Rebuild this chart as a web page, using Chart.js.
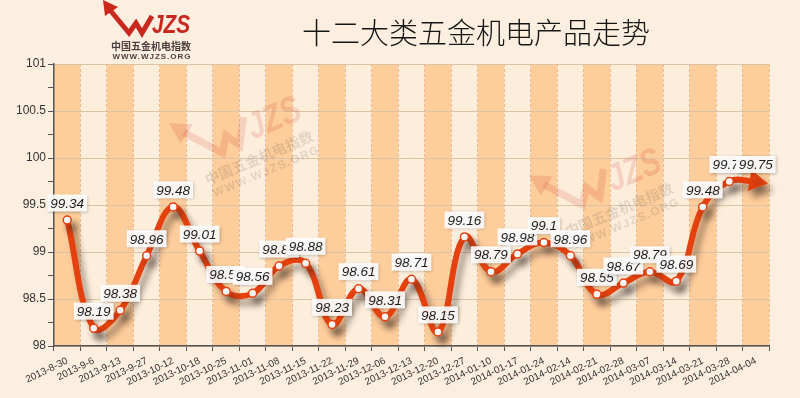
<!DOCTYPE html>
<html>
<head>
<meta charset="utf-8">
<title>十二大类五金机电产品走势</title>
<script src="https://cdn.jsdelivr.net/npm/chart.js@4"></script>
<style>
  html, body { margin: 0; padding: 0; background: #fcefdf; }
  canvas { display: block; }
</style>
</head>
<body>
<canvas id="chart" width="800" height="398"></canvas>
<script>
// Chart data
const categories = ['2013-8-30', '2013-9-6', '2013-9-13', '2013-9-27', '2013-10-12', '2013-10-18',
  '2013-10-25', '2013-11-01', '2013-11-08', '2013-11-15', '2013-11-22', '2013-11-29', '2013-12-06',
  '2013-12-13', '2013-12-20', '2013-12-27', '2014-01-10', '2014-01-17', '2014-01-24', '2014-02-14',
  '2014-02-21', '2014-02-28', '2014-03-07', '2014-03-14', '2014-03-21', '2014-03-28', '2014-04-04'];
const indexValues = [99.34, 98.19, 98.38, 98.96, 99.48, 99.01, 98.58, 98.56, 98.85, 98.88, 98.23,
  98.61, 98.31, 98.71, 98.15, 99.16, 98.79, 98.98, 99.1, 98.96, 98.55, 98.67, 98.79, 98.69, 99.48,
  99.75, 99.75];
const yMin = 98;
const yMax = 101;
const yMajorStep = 0.5;
const yMinorStep = 0.25;
const chartTitle = '十二大类五金机电产品走势';

const RED = '#e4410f';

// Draw the WJZS logo (used for the header and the faint watermarks)
function drawLogo(ctx, cx, cy, scale, angle, alpha) {
  ctx.save();
  ctx.globalAlpha = alpha;
  ctx.translate(cx, cy);
  ctx.rotate(angle);
  ctx.scale(scale, scale);
  ctx.translate(-48, -30);
  // arrow head
  ctx.fillStyle = '#c8281e';
  ctx.beginPath();
  ctx.moveTo(3, 0);
  ctx.lineTo(5, 16);
  ctx.lineTo(18, 7);
  ctx.closePath();
  ctx.fill();
  // arrow body that forms the W
  ctx.strokeStyle = '#c8281e';
  ctx.lineWidth = 5;
  ctx.lineJoin = 'miter';
  ctx.beginPath();
  ctx.moveTo(10, 10);
  ctx.lineTo(29, 33);
  ctx.lineTo(36, 23);
  ctx.lineTo(42, 33);
  ctx.lineTo(52, 16);
  ctx.stroke();
  // JZS letters
  ctx.save();
  ctx.translate(52, 33);
  ctx.scale(0.8, 1);
  ctx.fillStyle = '#c8281e';
  ctx.font = 'italic bold 26px "Liberation Sans"';
  ctx.textAlign = 'left';
  ctx.textBaseline = 'alphabetic';
  ctx.fillText('JZS', 0, 0);
  ctx.restore();
  ctx.fillStyle = '#4a4040';
  ctx.font = 'bold 10px "Noto Sans CJK SC"';
  ctx.textAlign = 'center';
  ctx.textBaseline = 'middle';
  ctx.fillText('中国五金机电指数', 51, 46);
  ctx.font = 'bold 8px "Liberation Sans"';
  ctx.letterSpacing = '1px';
  ctx.fillText('WWW.WJZS.ORG', 52, 57);
  ctx.restore();
}

// Background, alternating bands and header
const backdropPlugin = {
  id: 'backdrop',
  beforeDraw(chart) {
    const ctx = chart.ctx;
    const area = chart.chartArea;
    const xScale = chart.scales.x;
    ctx.save();
    ctx.fillStyle = '#fcefdf';
    ctx.fillRect(0, 0, chart.width, chart.height);
    const half = (xScale.getPixelForValue(1) - xScale.getPixelForValue(0)) / 2;
    categories.forEach((c, i) => {
      const px = xScale.getPixelForValue(i);
      ctx.fillStyle = i % 2 === 0 ? '#fdcd9b' : '#fdeedc';
      ctx.fillRect(px - half, area.top, half * 2, area.bottom - area.top);
    });
    // title
    ctx.fillStyle = '#151515';
    ctx.font = '300 29px "Noto Sans CJK SC"';
    ctx.textAlign = 'center';
    ctx.textBaseline = 'middle';
    ctx.fillText(chartTitle, 476, 33);
    ctx.restore();
    drawLogo(ctx, 148, 30, 1, 0, 1);
  },
  beforeDatasetsDraw(chart) {
    const ctx = chart.ctx;
    // faint watermarks
    drawLogo(ctx, 246, 138, 1.45, -0.4, 0.15);
    drawLogo(ctx, 606, 190, 1.45, -0.4, 0.15);
  }
};

// Shadow under the line
const shadowPlugin = {
  id: 'lineShadow',
  beforeDatasetDraw(chart) {
    const ctx = chart.ctx;
    ctx.save();
    ctx.shadowColor = 'rgba(60, 40, 30, 0.45)';
    ctx.shadowBlur = 6;
    ctx.shadowOffsetX = 5;
    ctx.shadowOffsetY = 7;
  },
  afterDatasetDraw(chart) {
    chart.ctx.restore();
  }
};

// Value labels in small white boxes above each point
const valueLabelPlugin = {
  id: 'valueLabels',
  afterDatasetsDraw(chart) {
    const ctx = chart.ctx;
    const meta = chart.getDatasetMeta(0);
    ctx.save();
    ctx.font = 'italic 13.5px "Liberation Sans"';
    ctx.textAlign = 'center';
    ctx.textBaseline = 'middle';
    meta.data.forEach((pt, i) => {
      const text = String(indexValues[i]);
      const w = ctx.measureText(text).width + 6;
      const h = 17;
      const cx = pt.x;
      const cy = pt.y - 17;
      ctx.save();
      ctx.shadowColor = 'rgba(0, 0, 0, 0.3)';
      ctx.shadowBlur = 3;
      ctx.shadowOffsetX = 1;
      ctx.shadowOffsetY = 1;
      ctx.fillStyle = 'rgba(255, 255, 255, 0.9)';
      ctx.fillRect(cx - w / 2, cy - h / 2, w, h);
      ctx.restore();
      ctx.fillStyle = '#1e1e1e';
      ctx.fillText(text, cx, cy + 1);
    });
    ctx.restore();
  }
};

const lastIndex = indexValues.length - 1;

const chart = new Chart(document.getElementById('chart'), {
  type: 'line',
  data: {
    labels: categories,
    datasets: [{
      data: indexValues,
      borderColor: RED,
      borderWidth: 6,
      borderCapStyle: 'round',
      borderJoinStyle: 'round',
      tension: 0.4,
      pointStyle: indexValues.map((v, i) => i === lastIndex ? 'triangle' : 'circle'),
      pointRotation: indexValues.map((v, i) => i === lastIndex ? 100 : 0),
      pointRadius: indexValues.map((v, i) => i === lastIndex ? 11 : 4),
      pointBackgroundColor: indexValues.map((v, i) => i === lastIndex ? RED : '#ffffff'),
      pointBorderColor: RED,
      pointBorderWidth: 1.5,
      clip: false
    }]
  },
  options: {
    responsive: false,
    animation: false,
    devicePixelRatio: 1,
    layout: { padding: { top: 64, right: 31, left: 0, bottom: 0 } },
    plugins: {
      legend: { display: false },
      title: { display: false },
      tooltip: { enabled: false }
    },
    scales: {
      x: {
        offset: true,
        afterFit: scale => { scale.height = 52; },
        grid: {
          offset: true,
          color: 'rgba(228, 165, 115, 0.7)',
          tickColor: '#555',
          tickLength: 5
        },
        border: { color: '#555', width: 1.5, dash: [3, 2] },
        ticks: {
          autoSkip: false,
          minRotation: 26,
          maxRotation: 26,
          padding: 4,
          color: '#333',
          font: { family: '"Liberation Sans"', size: 10 }
        }
      },
      y: {
        min: yMin,
        max: yMax,
        afterFit: scale => { scale.width = 54; },
        grid: {
          color: ctx => (ctx.tick && Math.abs(ctx.tick.value / yMajorStep - Math.round(ctx.tick.value / yMajorStep)) < 1e-6)
            ? '#dcc3a6' : 'rgba(0,0,0,0)',
          tickColor: '#555',
          tickLength: 6
        },
        border: { color: '#555', width: 1.5 },
        ticks: {
          stepSize: yMinorStep,
          padding: 2,
          color: '#333',
          font: { family: '"Liberation Sans"', size: 12 },
          callback: v => (Math.abs(v / yMajorStep - Math.round(v / yMajorStep)) < 1e-6) ? String(v) : ''
        }
      }
    }
  },
  plugins: [backdropPlugin, shadowPlugin, valueLabelPlugin]
});
</script>
</body>
</html>
